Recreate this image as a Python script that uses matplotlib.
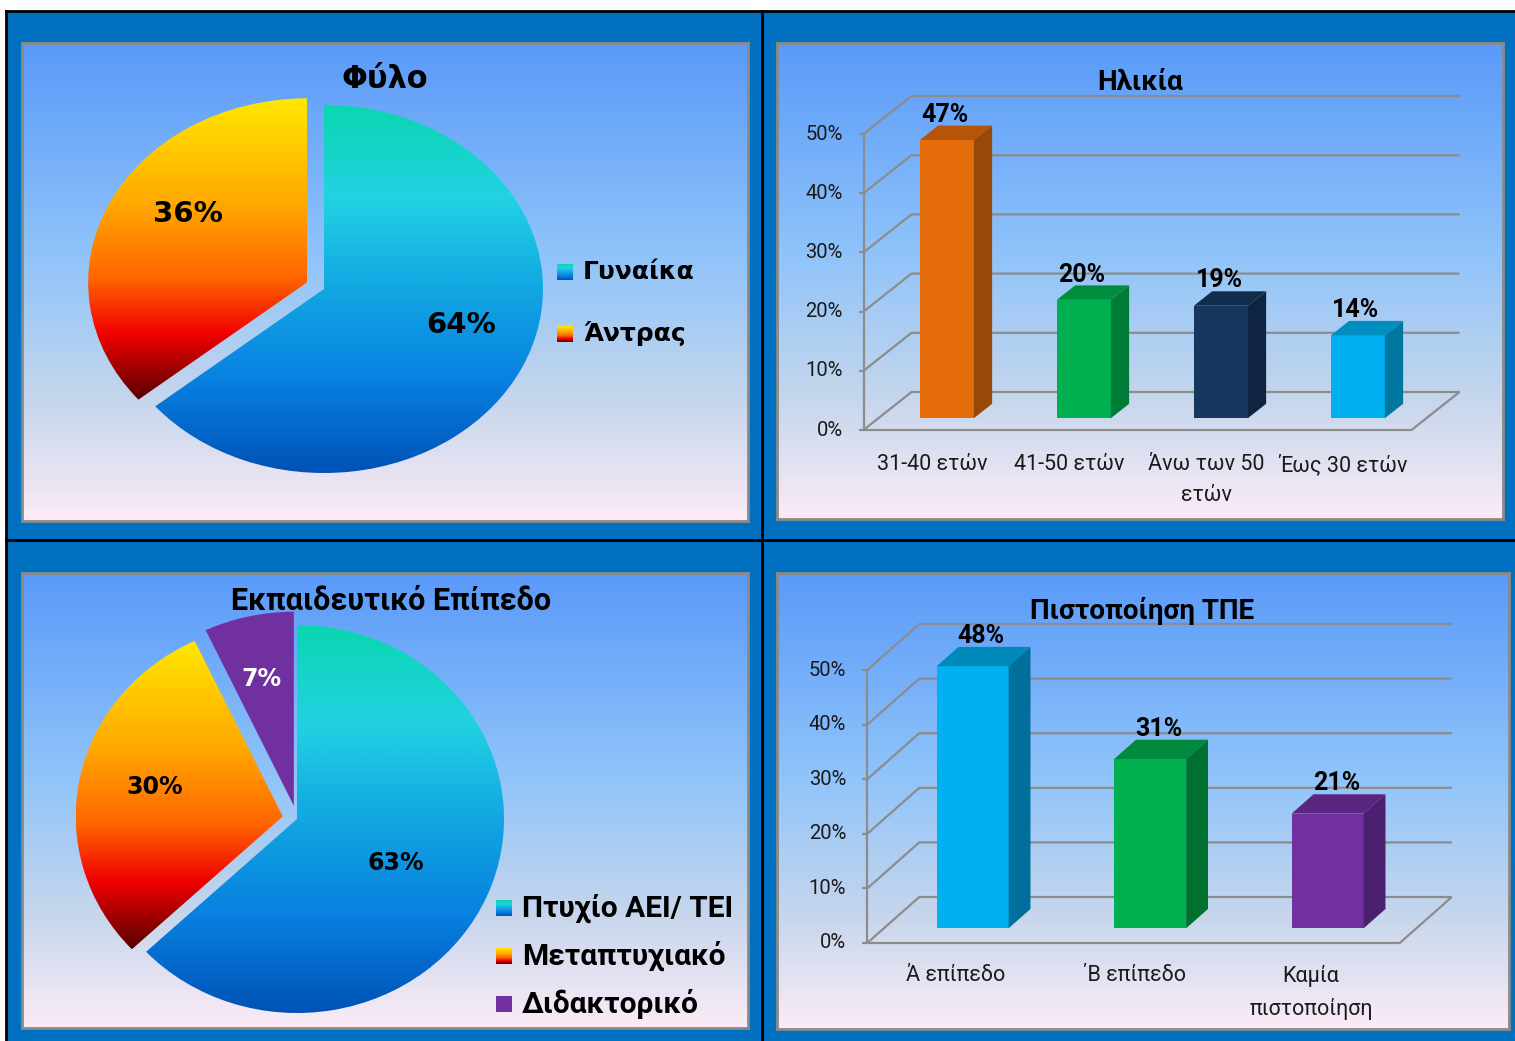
import numpy as np
import matplotlib
matplotlib.use("Agg")
import matplotlib.pyplot as plt
from matplotlib.colors import LinearSegmentedColormap
from matplotlib.patches import Rectangle, Polygon

# ---- data ----
SEX_LABELS = ['Γυναίκα', 'Άντρας']
SEX_SHARES = [64, 36]

EDU_LABELS = ['Πτυχίο ΑΕΙ/ ΤΕΙ', 'Μεταπτυχιακό', 'Διδακτορικό']
EDU_SHARES = [63, 30, 7]

AGE_LABELS = ['31-40 ετών', '41-50 ετών', 'Άνω των 50\nετών', 'Έως 30 ετών']
AGE_VALUES = [47, 20, 19, 14]

ICT_LABELS = ['Ά επίπεδο', '΄Β επίπεδο', 'Καμία\nπιστοποίηση']
ICT_VALUES = [48, 31, 21]

PCT_TICKS = [0, 10, 20, 30, 40, 50]

# ---- styles ----
W, H = 1515, 1041
CAL = ['Roboto', 'DejaVu Sans']
VER = ['DejaVu Sans']
GRID = '#8c8c8c'

PANEL_CMAP = LinearSegmentedColormap.from_list(
    'panel', [(0, '#5a9af9'), (0.45, '#90c4fa'), (0.75, '#c6d6ec'), (1, '#fcebf7')])
BLUE_CMAP = LinearSegmentedColormap.from_list(
    'blue', [(0, '#0ad6b0'), (0.25, '#22d2e2'), (0.5, '#12a6e2'), (0.75, '#0880e0'), (1, '#0052b6')])
FIRE_CMAP = LinearSegmentedColormap.from_list(
    'fire', [(0, '#ffe800'), (0.35, '#ffa800'), (0.6, '#ff6400'), (0.78, '#f20000'), (1, '#580000')])
PURPLE = '#7030a0'

AGE_COLORS = [('#e46c0a', '#b65508', '#984807'),
              ('#00b050', '#008d40', '#007a37'),
              ('#17375e', '#122c4b', '#0f2440'),
              ('#00b0f0', '#008dc0', '#0076a0')]
ICT_COLORS = [('#00b0f0', '#008abc', '#006f9c'),
              ('#00b050', '#008a3e', '#007030'),
              ('#7030a0', '#5a2680', '#4b2070')]

GRAD = np.linspace(0, 1, 256)[:, None]

fig = plt.figure(figsize=(W / 100, H / 100), dpi=100)
fig.patch.set_facecolor('white')

# background / frame in pixel coordinates
bg = fig.add_axes([0, 0, 1, 1], zorder=0)
bg.set_xlim(0, W)
bg.set_ylim(H, 0)
bg.axis('off')
bg.add_patch(Rectangle((6, 11), W - 6, H - 11, facecolor='#0070c0', edgecolor='none'))
bg.plot([6, W], [11, 11], color='black', lw=2)
bg.plot([6, 6], [11, H], color='black', lw=2)
bg.plot([762, 762], [11, H], color='black', lw=2)
bg.plot([6, W], [540, 540], color='black', lw=2)


def panel(x0, y0, x1, y1):
    ax = fig.add_axes([x0 / W, 1 - y1 / H, (x1 - x0) / W, (y1 - y0) / H], zorder=1)
    ax.imshow(GRAD, cmap=PANEL_CMAP, extent=(0, 1, 0, 1), transform=ax.transAxes,
              aspect='auto', zorder=0)
    ax.set_xticks([])
    ax.set_yticks([])
    for s in ax.spines.values():
        s.set_color('#8a8a8a')
        s.set_linewidth(2)
    return ax


def draw_pie(rect, center, radii, shares, fills, explode, label_r, tweak, label_colors, label_size):
    x0, y0, x1, y1 = rect
    cx, cy = center
    rx, ry = radii
    ax = panel(*rect)
    wedges, _ = ax.pie(shares, startangle=90, counterclock=False, explode=explode,
                       radius=1, wedgeprops=dict(linewidth=0))
    for w, fill in zip(wedges, fills):
        if isinstance(fill, str):
            w.set_facecolor(fill)
        else:
            w.set_facecolor('none')
            bb = w.get_path().get_extents()
            im = ax.imshow(GRAD, cmap=fill, extent=(bb.x0, bb.x1, bb.y0, bb.y1),
                           aspect='auto', zorder=2)
            im.set_clip_path(w)
    for w, v, r, t, c in zip(wedges, shares, label_r, tweak, label_colors):
        ang = np.deg2rad((w.theta1 + w.theta2) / 2 + t)
        ax.text(w.center[0] + r * np.cos(ang), w.center[1] + r * np.sin(ang), f'{v}%',
                ha='center', va='center', color=c, fontsize=label_size,
                fontweight='bold', family=VER, zorder=5)
    ax.set_aspect('auto')
    ax.set_frame_on(True)
    ax.set_xlim((x0 - cx) / rx, (x1 - cx) / rx)
    ax.set_ylim((cy - y1) / ry, (cy - y0) / ry)
    return ax


def draw_bars(rect, cats, vals, colors, xpx0, px_cat, ypx0, px_pct, wall_px, bar_px,
              f, g, tick_right_px, label_shift):
    x0p, y0p, x1p, y1p = rect
    ax = panel(*rect)
    ax.set_xlim((x0p - xpx0) / px_cat, (x1p - xpx0) / px_cat)
    ax.set_ylim((ypx0 - y1p) / px_pct, (ypx0 - y0p) / px_pct)
    wx, wy = wall_px[0] / px_cat, wall_px[1] / px_pct
    w = bar_px / px_cat
    n = len(vals)
    xa, xb = -0.5, n - 0.5
    top = PCT_TICKS[-1]
    kw = dict(color=GRID, lw=1.6, zorder=1, solid_capstyle='butt')
    for v in PCT_TICKS:
        ax.plot([xa, xa + wx, xb + wx], [v, v + wy, v + wy], **kw)
        ax.plot([xa - 5 / px_cat, xa], [v, v], **kw)
        ax.text((tick_right_px - xpx0) / px_cat, v, f'{v}%', ha='right', va='center',
                fontsize=14.5, family=CAL, color='#1a1a1a')
    ax.plot([xa, xa], [0, top], **kw)
    ax.plot([xa, xb, xb + wx], [0, 0, wy], **kw)
    for i, (v, (cf, ct, cs)) in enumerate(zip(vals, colors)):
        xl = i - w / 2 + f * wx
        yb = f * wy
        dx, dy = g * wx, g * wy
        ax.add_patch(Rectangle((xl, yb), w, v, facecolor=cf, edgecolor='none', zorder=3))
        ax.add_patch(Polygon([(xl, yb + v), (xl + dx, yb + v + dy), (xl + w + dx, yb + v + dy),
                              (xl + w, yb + v)], closed=True, facecolor=ct, edgecolor='none', zorder=3))
        ax.add_patch(Polygon([(xl + w, yb), (xl + w + dx, yb + dy), (xl + w + dx, yb + v + dy),
                              (xl + w, yb + v)], closed=True, facecolor=cs, edgecolor='none', zorder=3))
        ax.text(i + f * wx + dx * label_shift, yb + v + dy - 0.2, f'{v}%', ha='center', va='bottom',
                fontsize=18, fontweight='bold', family=CAL, color='black', zorder=4)
    for i, c in enumerate(cats):
        ax.text(i, -4.1, c, ha='center', va='top', fontsize=15.5, family=CAL,
                color='#1a1a1a', linespacing=1.6)
    return ax


# ---- panel 1: sex pie ----
draw_pie((22, 43, 748, 521), (324, 289), (219, 184), SEX_SHARES,
         [BLUE_CMAP, FIRE_CMAP], [0, 0.085], [0.656, 0.657], [8, -9],
         ['black', 'black'], 21)

# ---- panel 2: age bars ----
draw_bars((777, 43, 1503, 519), AGE_LABELS, AGE_VALUES, AGE_COLORS,
          932, 137, 430, 5.92, (48, 38), 54, 0.31, 0.38, 843, -0.1)

# ---- panel 3: education pie ----
draw_pie((22, 573, 748, 1028), (297, 819), (207, 194), EDU_SHARES,
         [BLUE_CMAP, FIRE_CMAP, PURPLE], [0, 0.07, 0.07], [0.53, 0.637, 0.67], [-2, -3, 1],
         ['black', 'black', 'white'], 17)

# ---- panel 4: ICT certification bars ----
draw_bars((777, 573, 1509, 1029), ICT_LABELS, ICT_VALUES, ICT_COLORS,
          956, 177.5, 943, 5.46, (52, 46), 72, 0.32, 0.42, 846, 0.4)

# ---- overlay: titles and legends in pixel coordinates ----
ov = fig.add_axes([0, 0, 1, 1], zorder=5)
ov.set_xlim(0, W)
ov.set_ylim(H, 0)
ov.axis('off')
ov.patch.set_alpha(0)

ov.text(385, 80, 'Φύλο', ha='center', va='center', fontsize=22, fontweight='bold', family=VER)
ov.text(1140, 82, 'Ηλικία', ha='center', va='center', fontsize=20, fontweight='bold', family=CAL)
ov.text(391, 601, 'Εκπαιδευτικό Επίπεδο', ha='center', va='center', fontsize=22,
        fontweight='bold', family=CAL)
ov.text(1142, 611, 'Πιστοποίηση ΤΠΕ', ha='center', va='center', fontsize=20,
        fontweight='bold', family=CAL)


def legend(x, ys, labels, fills, size, family):
    for y, lab, fill in zip(ys, labels, fills):
        if isinstance(fill, str):
            ov.add_patch(Rectangle((x, y - 8), 16, 16, facecolor=fill, edgecolor='none'))
        else:
            ov.imshow(GRAD, cmap=fill, extent=(x, x + 16, y + 8, y - 8), aspect='auto')
        ov.text(x + 26, y, lab, ha='left', va='center', fontsize=size,
                fontweight='bold', family=family)


legend(557, [272, 334], SEX_LABELS, [BLUE_CMAP, FIRE_CMAP], 18, VER)
legend(496, [908, 956, 1004], EDU_LABELS, [BLUE_CMAP, FIRE_CMAP, PURPLE], 21.5, CAL)
ov.set_xlim(0, W)
ov.set_ylim(H, 0)

fig.savefig('out.png', dpi=100)
